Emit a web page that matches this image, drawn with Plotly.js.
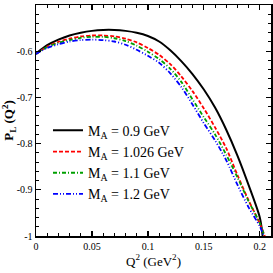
<!DOCTYPE html>
<html>
<head>
<meta charset="utf-8">
<script src="https://cdn.plot.ly/plotly-3.0.1.min.js"></script>
<style>html,body{margin:0;padding:0;background:#fff}#chart{width:273px;height:273px}</style>
</head>
<body>
<div id="chart"></div>
<script>
const names = ["M<sub>A</sub> = 0.9 GeV", "M<sub>A</sub> = 1.026 GeV", "M<sub>A</sub> = 1.1 GeV", "M<sub>A</sub> = 1.2 GeV"];
const q2Base = [0, 0.01, 0.02, 0.03, 0.04, 0.05, 0.06, 0.07, 0.08, 0.09, 0.10, 0.11, 0.12, 0.13, 0.14, 0.15, 0.16, 0.17, 0.18, 0.19, 0.20];
const q2Black = q2Base.concat([0.2025]);
const q2Red = q2Base.concat([0.2045]);
const q2Green = q2Base.concat([0.204]);
const q2Blue = q2Base.concat([0.2035]);
const pBlack = [-0.605, -0.587, -0.575, -0.566, -0.560, -0.556, -0.554, -0.554, -0.556, -0.560, -0.567, -0.579, -0.598, -0.622, -0.650, -0.683, -0.722, -0.770, -0.826, -0.890, -0.960, -1.0];
const pRed = [-0.606, -0.590, -0.580, -0.573, -0.568, -0.566, -0.566, -0.568, -0.573, -0.581, -0.593, -0.608, -0.628, -0.655, -0.687, -0.724, -0.765, -0.810, -0.868, -0.923, -0.973, -1.0];
const pGreen = [-0.606, -0.591, -0.582, -0.576, -0.571, -0.569, -0.569, -0.572, -0.578, -0.588, -0.601, -0.617, -0.638, -0.667, -0.705, -0.743, -0.780, -0.824, -0.873, -0.925, -0.972, -1.0];
const pBlue = [-0.606, -0.593, -0.585, -0.579, -0.576, -0.575, -0.576, -0.579, -0.586, -0.597, -0.610, -0.625, -0.648, -0.678, -0.716, -0.756, -0.793, -0.836, -0.889, -0.938, -0.979, -1.0];
const xTickVals = [0, 0.05, 0.1, 0.15, 0.2];
const xTickText = ["0", "0.05", "0.1", "0.15", "0.2"];
const yTickVals = [-1, -0.9, -0.8, -0.7, -0.6, -0.5];
const yTickText = ["-1", "-0.9", "-0.8", "-0.7", "-0.6", "-0.5"];

const serif = "Liberation Serif, Times New Roman, serif";
const traces = [
  {x: q2Black, y: pBlack, name: names[0], line: {color: "#000000", width: 2, dash: "solid", shape: "spline", smoothing: 0.8}},
  {x: q2Red, y: pRed, name: names[1], line: {color: "#ff0000", width: 1.8, dash: "4px,2px", shape: "spline", smoothing: 0.8}},
  {x: q2Green, y: pGreen, name: names[2], line: {color: "#00a000", width: 1.8, dash: "4px,2px,1px,2px", shape: "spline", smoothing: 0.8}},
  {x: q2Blue, y: pBlue, name: names[3], line: {color: "#0000ff", width: 1.8, dash: "5px,2px,1px,2px,1px,2px", shape: "spline", smoothing: 0.8}}
].map(t => Object.assign({type: "scatter", mode: "lines"}, t));

const axisCommon = {
  showline: true, linecolor: "#000", linewidth: 1.5, mirror: "allticks",
  ticks: "inside", ticklen: 5, tickwidth: 1.2, tickcolor: "#000",
  showgrid: false, zeroline: false,
  tickfont: {family: serif, size: 10, color: "#000"},
  minor: {ticks: "inside", ticklen: 3, tickwidth: 1, tickcolor: "#000", showgrid: false}
};

const layout = {
  width: 273, height: 273,
  margin: {l: 36, r: 2, t: 5, b: 37},
  paper_bgcolor: "#fff", plot_bgcolor: "#fff",
  showlegend: true,
  legend: {x: 0.051, y: 0.525, xanchor: "left", yanchor: "top", bgcolor: "rgba(0,0,0,0)",
           font: {family: serif, size: 14, color: "#000"}, tracegroupgap: 0},
  xaxis: Object.assign({}, axisCommon, {
    range: [0, 0.21], tickmode: "array", tickvals: xTickVals, ticktext: xTickText,
    minor: Object.assign({}, axisCommon.minor, {dtick: 0.01, tick0: 0}),
    title: {text: "Q<sup>2</sup> (GeV<sup>2</sup>)", font: {family: serif, size: 13, color: "#000"}, standoff: 6}
  }),
  yaxis: Object.assign({}, axisCommon, {
    range: [-1, -0.5], tickmode: "array", tickvals: yTickVals, ticktext: yTickText,
    minor: Object.assign({}, axisCommon.minor, {dtick: 0.02, tick0: -1}),
    title: {text: "<b>P<sub>L</sub> (Q<sup>2</sup>)</b>", font: {family: serif, size: 13, color: "#000"}, standoff: 4}
  })
};

Plotly.newPlot("chart", traces, layout, {displayModeBar: false, staticPlot: true});
</script>
</body>
</html>
